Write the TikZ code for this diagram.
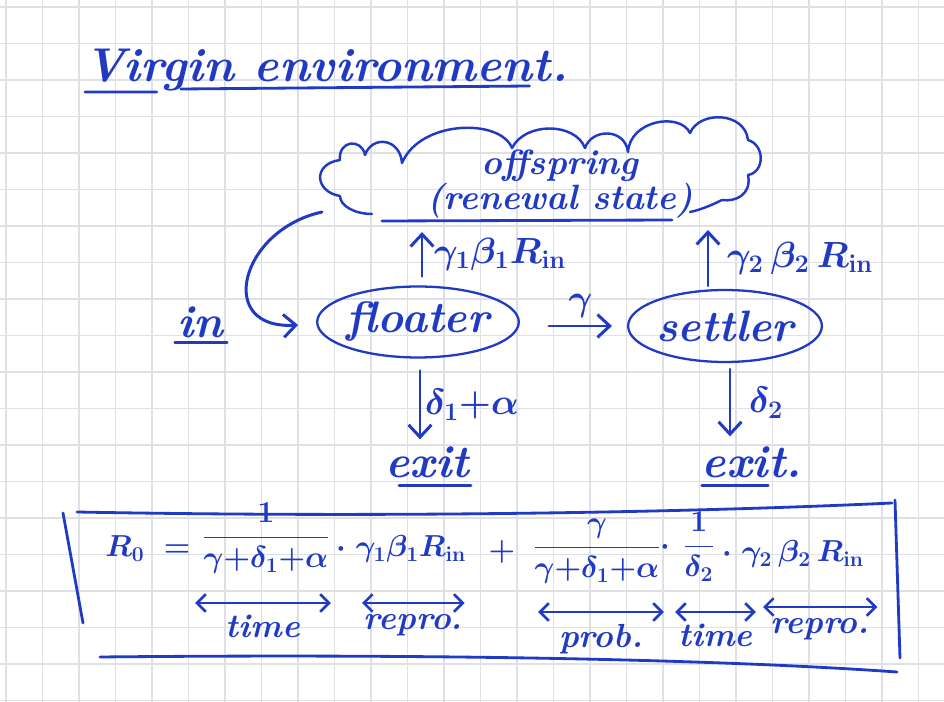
\documentclass[tikz,border=0pt]{standalone}
\usepackage{amsmath}
\usetikzlibrary{arrows.meta,positioning,calc,shapes.geometric}
\definecolor{ink}{RGB}{32,58,196}
\definecolor{gridgray}{RGB}{222,224,229}
\tikzset{
  handwritten/.style={
    x=0.02cm, y=-0.02cm,
    >={Straight Barb[length=7pt,width=13pt]},
    line cap=round, line join=round
  },
  gridline/.style={draw=gridgray, line width=0.8pt},
  ink line/.style={draw=ink, line width=1.6pt},
  heading/.style={text=ink, inner sep=0pt, font=\fontsize{27}{32}\selectfont\bfseries\itshape},
  cloudtext/.style={text=ink, inner sep=1pt, align=center,
    font=\fontsize{20}{19}\selectfont\bfseries\itshape},
  state/.style={                   % compartment
    ellipse, draw=ink, line width=1.3pt,
    inner sep=0pt, text=ink,
    font=\fontsize{25}{30}\selectfont\bfseries\itshape
  },
  word/.style={text=ink, inner sep=1pt, font=\fontsize{26}{30}\selectfont\bfseries\itshape},
  flow/.style={->, draw=ink, line width=1.7pt},
  rate/.style={text=ink, inner sep=2pt, font=\fontsize{20}{24}\selectfont\boldmath},
  term/.style={text=ink, inner sep=0pt, font=\fontsize{17.5}{22}\selectfont\boldmath},
  span/.style={<->, draw=ink, line width=1.5pt, >={Straight Barb[length=5pt,width=10pt]}},
  spanlabel/.style={text=ink, inner sep=2pt, font=\fontsize{19}{22}\selectfont\bfseries\itshape}
}

\begin{document}
\begin{tikzpicture}[handwritten]
\useasboundingbox (0,0) rectangle (944,702);
\fill[white] (0,0) rectangle (944,702);
% squared paper
\foreach \k in {0,...,25}
  \draw[gridline] ({6+36.5*\k},0) -- ({6+36.5*\k},702);
\foreach \k in {0,...,19}
  \draw[gridline] (0,{7+36.5*\k}) -- (944,{7+36.5*\k});

% Title
\node[heading, anchor=base west] (title) at (84,82) {Virgin environment.};
\draw[ink line] ($(title.base west)+(1,10)$) -- ($(title.base west)!0.15!(title.base east)+(0,10)$);
\draw[ink line] ($(title.base west)!0.2!(title.base east)+(0,7)$) -- ($(title.base west)!0.92!(title.base east)+(0,4)$);

% Renewal state (cloud)
\node[cloudtext] (offspring) at (560,184) {offspring\\(renewal state)};
\draw[ink line, line width=1.4pt] (372,214) .. controls (355,214) and (340,206) .. (340,196)
  .. controls (315,192) and (312,164) .. (340,160)
  .. controls (338,140) and (362,138) .. (365,155)
  .. controls (372,135) and (400,138) .. (402,163)
  .. controls (420,120) and (500,118) .. (512,148)
  .. controls (525,122) and (575,122) .. (585,148)
  .. controls (592,128) and (625,128) .. (628,152)
  .. controls (630,120) and (680,112) .. (690,133)
  .. controls (700,110) and (745,112) .. (748,140)
  .. controls (765,145) and (765,172) .. (748,175)
  .. controls (752,195) and (735,202) .. (722,200)
  .. controls (712,205) and (700,210) .. (690,212);
\coordinate (cloudbase) at (382,221);
\draw[ink line] (cloudbase) -- (672,220);

% Compartments
\node[state, minimum width=3.0cm, minimum height=1.42cm] (floater) at (418,322) {floater};
\node[state, minimum width=3.4cm, minimum height=1.44cm] (settler) at (725,326) {settler};
\node[word] (inlabel) at (200,322) {in};
\node[word] (exitA) at (427,462) {exit};
\node[word] (exitB) at (752,462) {exit.};
\draw[ink line] ($(inlabel.south west)+(0,3)$) -- ($(inlabel.south east)+(2,3)$);
\draw[ink line] ($(exitA.south west)+(16,6)$) -- ($(exitA.south east)+(0,6)$);
\draw[ink line] ($(exitB.south west)+(2,6)$) -- ($(exitB.south east)+(-36,6)$);

% Flows
\coordinate (inflow) at (322,212);
\draw[flow] (inflow) .. controls (240,230) and (215,330) .. ($(floater.west)+(-18,3)$);
\draw[flow] ($(floater.north)+(4,-9)$) -- ($(floater.north |- cloudbase)+(4,11)$)
  node[rate, midway, right=4pt] {$\gamma_1\beta_1R_{\mathrm{in}}$};
\draw[flow] ($(settler.north)+(-17,-3)$) -- ($(settler.north |- cloudbase)+(-17,9)$)
  node[rate, midway, right=8pt] {$\gamma_2\,\beta_2\,R_{\mathrm{in}}$};
\draw[flow] ($(floater.east)+(29,4)$) -- ($(settler.west)+(-15,0)$)
  node[rate, midway, above=2pt] {$\gamma$};
\draw[flow] ($(floater.south)+(2,12)$) -- ($(floater.south |- exitA.north)+(2,-5)$)
  node[rate, midway, right] {$\delta_1{+}\alpha$};
\draw[flow] ($(settler.south)+(5,6)$) -- ($(settler.south |- exitB.north)+(5,-8)$)
  node[rate, midway, right=8pt] {$\delta_2$};

% Basic reproduction number
\draw[ink line] (63,513) -- (83,623);
\draw[ink line] (77,512) .. controls (400,518) and (700,512) .. (892,503);
\draw[ink line] (895,500) -- (900,658);
\draw[ink line] (100,657) .. controls (400,654) and (700,658) .. (897,672);
\node[term, anchor=base west] (rnaught) at (105,557) {$R_0 \;=$};
\node[term, anchor=base] (fracA) at (266,545) {$\dfrac{1}{\gamma{+}\delta_1{+}\alpha}$};
\node[term, anchor=base west] (reproA) at (336,557) {$\cdot\;\gamma_1\beta_1R_{\mathrm{in}}$};
\node[term, anchor=base] (plus) at (502,560) {$+$};
\node[term, anchor=base] (fracB) at (597,555) {$\dfrac{\gamma}{\gamma{+}\delta_1{+}\alpha}$};
\node[term, anchor=base] (dotB) at (665,555) {$\cdot$};
\node[term, anchor=base] (fracC) at (699,554) {$\dfrac{1}{\delta_2}$};
\node[term, anchor=base west] (reproB) at (722,562) {$\cdot\;\gamma_2\,\beta_2\,R_{\mathrm{in}}$};

\coordinate (rowA) at (0,603);
\coordinate (rowB) at (0,612);
\draw[span] ($(fracA.west |- rowA)+(-6,0)$) -- ($(fracA.east |- rowA)$)
  node[spanlabel, midway, below=4pt] {time};
\draw[span] ($(reproA.west |- rowA)+(26,0)$) -- ($(reproA.east |- rowA)+(-2,0)$)
  node[spanlabel, midway, below=4pt] {repro.};
\draw[span] ($(fracB.west |- rowB)+(6,0)$) -- ($(fracB.east |- rowB)+(2,0)$)
  node[spanlabel, midway, below=4pt] {prob.};
\draw[span] ($(fracC.west |- rowB)+(-7,0)$) -- ($(fracC.east |- rowB)+(40,0)$)
  node[spanlabel, midway, below=4pt] {time};
\draw[span] ($(reproB.west |- rowB)+(41,-5)$) -- ($(reproB.east |- rowB)+(13,-5)$)
  node[spanlabel, midway, below=4pt] {repro.};
\end{tikzpicture}
\end{document}
